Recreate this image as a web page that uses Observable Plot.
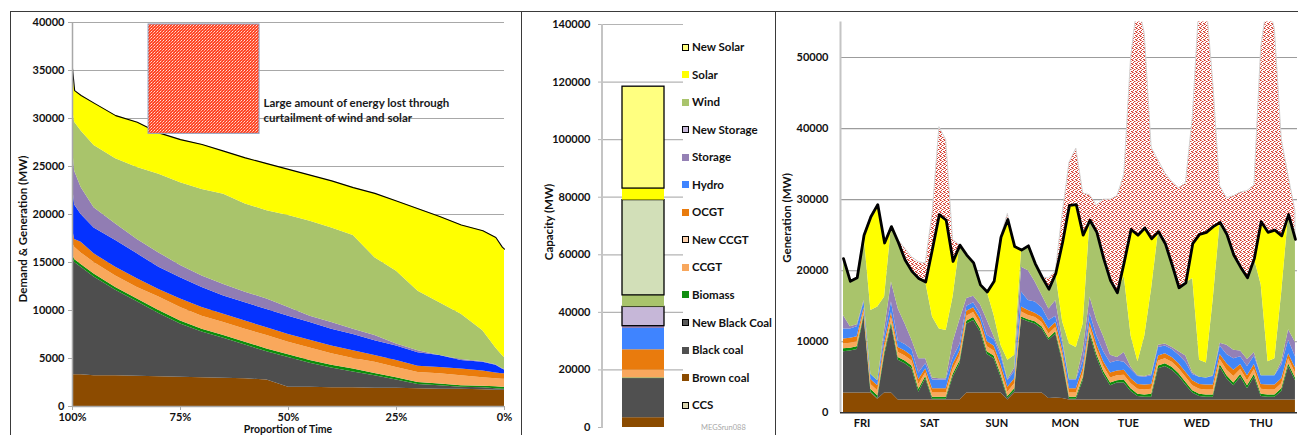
<!DOCTYPE html>
<html><head><meta charset="utf-8">
<script src="https://cdn.jsdelivr.net/npm/d3@7"></script>
<script src="https://cdn.jsdelivr.net/npm/@observablehq/plot@0.6"></script>
<style>
body{margin:0;background:#fff;font-family:Lato,"Liberation Sans",sans-serif;}
#wrap{position:relative;width:1298px;height:435px;overflow:hidden;background:#fff;}
.panel{position:absolute;border:1.6px solid #3a3a3a;box-sizing:border-box;}
.lbl{position:absolute;font-weight:bold;font-size:11px;line-height:1;color:#111;white-space:nowrap;}
.vlab{position:absolute;font-weight:bold;font-size:11.5px;line-height:1;color:#111;white-space:nowrap;transform:translate(-50%,-50%) rotate(-90deg);}
.sw{position:absolute;width:7px;height:7px;box-sizing:border-box;}
</style></head><body>
<svg width="0" height="0" style="position:absolute"><defs>
<pattern id="dotsR" width="4" height="4" patternUnits="userSpaceOnUse">
<rect width="4" height="4" fill="#ffffff"/>
<rect x="0" y="0" width="1" height="1" fill="#d43a2e"/>
<rect x="1" y="0" width="1" height="1" fill="#e88a80"/>
<rect x="2" y="1" width="1" height="1" fill="#d43a2e"/>
<rect x="1" y="2" width="1" height="1" fill="#d43a2e"/>
<rect x="3" y="3" width="1" height="1" fill="#d43a2e"/>
<rect x="3" y="1" width="1" height="1" fill="#eb9a90"/>
<rect x="0" y="3" width="1" height="1" fill="#e27064"/>
</pattern>
<pattern id="dotsBox" width="3" height="3" patternUnits="userSpaceOnUse">
<rect width="3" height="3" fill="#ff4526"/>
<rect x="1" y="1" width="1" height="1" fill="#ffe2d8"/>
<rect x="0" y="2" width="1" height="1" fill="#ffb4a0"/>
<rect x="2" y="0" width="1" height="1" fill="#ff8a70"/>
</pattern>
</defs></svg>
<div id="wrap"></div>
<script>
// ---------------- LEFT: load duration curve (thousand MW) ----------------
const propL = [100, 99.5, 98, 95, 90, 85, 80, 75, 70, 65, 60, 55, 50, 45, 40, 35, 30, 25, 20, 15, 10, 5, 2, 0.5, 0];
const brownL   = [3.3,3.3,3.3,3.2,3.2,3.15,3.1,3.05,3.0,2.95,2.9,2.75,2.0,2.0,1.95,1.95,1.9,1.9,1.85,1.8,1.8,1.75,1.7,1.7,1.7];
const blackL   = [12.2,11.7,11.2,10.3,8.9,7.75,6.6,5.55,4.75,4.15,3.5,2.95,3.1,2.5,2.05,1.65,1.3,0.85,0.45,0.35,0.2,0.2,0.15,0.1,0.1];
const biomassL = [0.4,0.3,0.3,0.3,0.3,0.3,0.3,0.3,0.3,0.3,0.3,0.3,0.3,0.3,0.3,0.3,0.25,0.25,0.2,0.2,0.15,0.15,0.2,0.2,0.2];
const ccgtL    = [1.1,1.3,1.2,1.2,1.2,1.2,1.4,1.4,1.35,1.35,1.35,1.4,1.3,1.3,1.2,1.1,1.15,1.05,1.05,1.05,1.05,0.9,0.85,0.85,0.85];
const ocgtL    = [1.5,0.8,1.1,0.9,0.9,0.9,0.8,0.9,0.9,0.85,0.85,0.8,0.8,0.8,0.8,0.8,0.7,0.75,0.65,0.65,0.7,0.7,0.6,0.55,0.55];
const hydroL   = [4.5,3.6,2.9,2.7,2.8,2.6,2.3,2.2,2.1,1.9,1.9,1.9,1.9,1.85,1.75,1.7,1.55,1.5,1.4,1.25,0.9,0.9,0.8,0.5,0.4];
const storageL = [4.0,3.5,2.8,2.1,1.7,1.5,1.5,1.3,1.2,1.2,1.1,1.1,0.9,0.65,0.7,0.55,0.55,0.2,0.2,0.0,0.1,0.05,0.05,0.05,0.05];
const windL    = [4.0,5.1,5.9,6.5,6.8,7.5,8.2,8.6,9.0,9.4,9.2,9.2,9.6,9.9,9.85,9.75,8.1,7.6,6.2,5.5,4.7,3.25,1.75,1.35,1.25];
const solarL   = [4.2,3.3,3.7,4.4,4.5,4.7,4.3,4.5,4.7,4.5,4.8,4.9,4.8,4.8,4.9,5.0,6.7,7.3,8.6,9.0,9.3,10.4,11.5,11.3,11.3];
const demandL  = [35.2,32.9,32.4,31.6,30.3,29.6,28.5,27.8,27.3,26.6,25.9,25.3,24.7,24.1,23.5,22.8,22.2,21.4,20.6,19.8,18.9,18.3,17.6,16.6,16.4];
const xTicksL = [100, 75, 50, 25, 0];
const yTicksL = [0,5000,10000,15000,20000,25000,30000,35000,40000];
const noteBox = [{x1: 82.4, x2: 56.7, y1: 28400, y2: 39800}];
const noteText = [{x: 55.8, y: 30900, t: "Large amount of energy lost through\ncurtailment of wind and solar"}];

// ---------------- MIDDLE: capacity (MW) ----------------
const capNames = ["Brown coal","Black coal","Biomass","CCGT","OCGT","Hydro","Storage","New Storage","Wind","New Wind","Solar","New Solar"];
const capValues = [3400,13600,200,2700,7100,7400,800,6700,4000,33100,4000,35400];
const capTicks = [0,20000,40000,60000,80000,100000,120000,140000];
const legendNames = ["New Solar","Solar","Wind","New Storage","Storage","Hydro","OCGT","New CCGT","CCGT","Biomass","New Black Coal","Black coal","Brown coal","CCS"];

// ---------------- RIGHT: one week (thousand MW) ----------------
const dayLabels = ["FRI","SAT","SUN","MON","TUE","WED","THU"];
const dayPos = [2.7, 12.6, 22.4, 32.4, 41.6, 51.6, 61.0];
const yTicksR = [0,10000,20000,30000,40000,50000];
const brownR = [2.8,2.8,2.8,2.8,2.8,1.9,2.8,2.8,1.8,1.8, 1.8,1.8,1.8,1.8,1.8,1.8,1.8,1.8,2.8,2.8, 2.8,2.8,2.8,2.8,1.8,2.8,2.8,2.8,2.8,2.8, 2.0,2.1,2.0,1.8,1.8,1.8,1.8,1.8,1.8,1.8, 1.8,1.8,1.8,1.8,1.8,1.8,1.8,1.8,1.8,1.8, 1.8,1.8,1.8,1.8,1.8,1.8,1.8,1.8,1.8,1.8, 1.8,1.8,1.8,1.8,1.8,1.8,1.8];
const blackR = [5.8,5.9,6.1,10.7,0.1,0.1,5.2,9.5,5.6,5.1, 4.4,1.1,3.0,0.1,0.1,0.1,3.2,5.1,9.7,10.2, 8.6,5.4,4.8,2.2,0.2,0.2,10.4,10.0,9.7,9.0, 8.2,9.0,5.1,0.1,0.1,2.7,9.2,6.0,3.6,2.0, 2.4,2.4,1.2,0.5,0.4,0.4,4.4,4.7,4.2,3.3, 2.1,1.0,0.5,0.4,0.4,4.6,3.0,2.0,3.2,1.6, 3.2,0.5,0.4,0.4,1.2,4.7,2.7];
const biomassR = [.4,.4,.4,.3,.4,.4,.4,.4,.4,.4, .4,.4,.3,.3,.3,.3,.4,.4,.4,.4, .4,.4,.4,.4,.3,.4,.3,.3,.3,.3, .3,.3,.4,.3,.3,.4,.4,.4,.4,.4, .3,.4,.4,.3,.3,.4,.4,.4,.4,.4, .4,.3,.3,.3,.3,.4,.4,.4,.4,.4, .4,.3,.3,.3,.4,.4,.4];
const ccgtR = [.7,.7,.7,.5,.7,.7,.7,.7,.7,.7, .7,.7,.5,.6,.6,.6,.7,.7,.7,.7, .7,.7,.7,.7,.6,.7,.7,.6,.6,.6, .6,.6,.7,.6,.6,.7,.7,.7,.7,.7, .7,.7,.7,.7,.7,.7,.7,.7,.7,.7, .7,.7,.7,.7,.7,.7,.8,.9,.7,.7, .7,.7,.7,.7,.7,.7,.7];
const ocgtR = [.7,.7,.7,.5,.7,.7,.7,.7,.7,.7, .7,.7,.6,.6,.6,.6,.7,.7,.7,.7, .7,.7,.7,.7,.7,.7,.7,.7,.6,.7, .7,.7,.7,.6,.6,.7,.7,.7,.7,.7, .7,.7,.7,.7,.7,.7,.7,.7,.7,.7, .7,.7,.7,.7,.7,.7,.9,.9,.7,.7, .7,.7,.7,.7,.7,.7,.7];
const hydroR = [1.4,1.3,1.4,0.8,0.7,0.7,0.9,1.5,0.9,0.9, 0.9,0.9,0.7,1.2,1.2,1.2,0.9,0.9,0.7,0.7, 0.7,0.9,0.9,1.2,0.9,1.0,2.1,1.4,1.6,1.4, 1.2,0.9,0.9,1.2,1.2,1.0,1.2,1.2,1.4,1.4, 1.4,1.1,1.3,1.1,1.1,1.2,1.2,1.1,1.1,1.2, 1.4,0.9,1.0,1.0,1.2,1.2,1.3,1.6,1.1,1.3, 1.2,1.2,1.3,1.3,1.9,1.9,1.6];
const storageR = [1.9,0.3,0.3,0.2,0,0,1.0,2.8,4.5,2.9, 1.3,2.0,0.7,0.3,0.2,0.2,2.2,3.5,1.1,0.9, 1.3,2.1,0.4,0.5,0.2,0.5,3.5,4.2,2.8,1.7, 1.6,2.2,0.5,0.1,0.1,1.5,2.3,2.2,2.1,1.1, 0.5,1.4,0.3,0.1,0.1,0.2,0.3,0.3,0.3,0.5, 0.9,0.2,0,0,0.1,0.4,1.3,1.2,0.8,1.0, 0.5,0,0,0,0.5,1.5,2.0];
const windR = [8.0,6.4,6.6,9.2,9.0,10.4,4.6,7.8,9.4,9.0, 9.7,11.3,10.8,8.6,7.0,6.8,6.4,10.5,6.1,4.7, 2.8,4.0,3.0,1.0,2.7,1.8,2.4,3.5,2.6,2.6, 2.8,3.8,2.5,5.0,4.5,3.7,10.8,12.4,11.0,10.5, 9.1,10.7,4.4,2.0,5.7,12.1,16.0,14.1,11.6,9.0, 10.3,13.3,2.4,2.1,10.8,17.0,15.6,13.4,11.8,11.5, 13.2,12.8,2.0,2.4,9.8,16.2,14.5];
const solarR = [0,0,0,0,13.2,14.4,7.6,0,0,0, 0,0,0,9.6,16.1,15.5,5.0,0,0,0, 0,0,4.8,15.2,19.8,15.3,0,0,0,0, 0,0,11.2,19.5,20.1,12.5,0,0,0,0, 0,2.0,15.0,17.8,15.2,7.0,0,0,0,0, 0,4.9,17.7,18.4,10.2,0,0,0,0,0, 0,8.9,18.2,18.1,7.9,0,0];
const demandR = [21.7,18.5,19.0,25.0,27.6,29.3,23.9,26.2,24.0,21.5, 19.9,18.9,18.4,23.1,27.9,27.1,21.3,23.6,22.2,21.1, 18.0,17.0,18.5,24.7,27.2,23.4,22.9,23.5,21.0,19.1, 17.4,19.6,24.0,29.2,29.3,25.0,27.1,25.4,21.7,18.6, 16.9,21.2,25.8,25.0,26.0,24.5,25.5,23.8,20.8,17.6, 18.3,23.8,25.1,25.4,26.2,26.8,25.1,22.2,20.5,19.0, 21.7,26.9,25.4,25.7,24.9,27.9,24.4];
const curtailR = [0,0,0,0,0,0,0,0,0.3,1.6, 2.0,2.3,2.6,4.9,12.3,11.3,3.0,0,0,0, 0,0,0,0,0.8,0,0,0,0,0, 1.5,0.3,4.0,6.0,7.9,5.9,3.5,3.8,8.3,11.4, 13.6,12.3,24.2,33.0,27.3,12.8,10.0,9.9,11.7,14.0, 14.0,17.7,32.9,32.6,20.2,5.1,5.1,8.3,10.5,12.2, 10.3,24.6,32.6,28.3,13.6,5.4,4.0];

// ---------------- colours ----------------
const colL = {"Brown coal":"#8c4b00","Black coal":"#4e4e4e","Biomass":"#0c8c0c","CCGT":"#f9a85c","OCGT":"#ea7b0b","Hydro":"#0532ff","Storage":"#917db3","Wind":"#a9c46b","Solar":"#ffff00"};
const colR = Object.assign({}, colL, {"Hydro":"#4286f6","Storage":"#9480b6"});
const colCap = {"Brown coal":"#8b4b00","Black coal":"#505050","Biomass":"#108f10","CCGT":"#f8a75d","OCGT":"#e97b0d","Hydro":"#3f84ff","Storage":"#9581b5","New Storage":"#c6b7d8","Wind":"#a9c46c","New Wind":"#d2dfb8","Solar":"#ffff00","New Solar":"#ffff80","New CCGT":"#fbd0ad","New Black Coal":"#5a5a5a","CCS":"#d9d4ae"};

const font = {fontFamily: "Lato, sans-serif", fontSize: "11px", fontWeight: "700", color: "#111", background: "none", overflow: "visible"};
const wrap = document.getElementById("wrap");
function put(el, left, top) { el.style.position = "absolute"; el.style.left = left + "px"; el.style.top = top + "px"; wrap.appendChild(el); return el; }
function div(cls, text, left, top, extra) { const d = document.createElement("div"); d.className = cls; d.textContent = text; Object.assign(d.style, extra || {}); return put(d, left, top); }

// LEFT
const seriesL = [["Brown coal", brownL],["Black coal", blackL],["Biomass", biomassL],["CCGT", ccgtL],["OCGT", ocgtL],["Hydro", hydroL],["Storage", storageL],["Wind", windL],["Solar", solarL]];
const rowsL = [];
seriesL.forEach(([s, vals]) => vals.forEach((v, i) => rowsL.push({p: propL[i], v: v * 1000, s, c: colL[s]})));
const demRowsL = propL.map((p, i) => ({p, v: demandL[i] * 1000}));
const leftSvg = Plot.plot({
  width: 520, height: 435, marginLeft: 72, marginRight: 16, marginTop: 22, marginBottom: 29,
  x: {domain: [100, 0]}, y: {domain: [0, 40000]}, color: {type: "identity"}, style: font,
  marks: [
    Plot.ruleY(yTicksL.filter(d => d > 0), {stroke: "#a8a8a8", strokeWidth: 1}),
    Plot.areaY(rowsL, Plot.stackY({x: "p", y: "v", z: "s", fill: "c"})),
    Plot.line(demRowsL, {x: "p", y: "v", stroke: "#000", strokeWidth: 1.1}),
    Plot.ruleX([100], {stroke: "#a8a8a8", strokeWidth: 1.5}),
    Plot.ruleY([0], {stroke: "#a8a8a8", strokeWidth: 1.5}),
    Plot.rect(noteBox, {x1: "x1", x2: "x2", y1: "y1", y2: "y2", fill: "url(#dotsBox)", stroke: "#8ea6c8", strokeWidth: 1}),
    Plot.text(noteText, {x: "x", y: "y", text: "t", textAnchor: "start", lineAnchor: "middle", lineHeight: 1.32, fontSize: 11.5, fontWeight: "bold", fill: "#1a1a1a"}),
    Plot.axisY({ticks: yTicksL, tickSize: 4, tickPadding: 4, tickFormat: "d", stroke: "#a8a8a8", label: null}),
    Plot.axisX({ticks: xTicksL, tickSize: 4, tickPadding: 3, tickFormat: d => d + "%", stroke: "#a8a8a8", label: null})
  ]
});
put(leftSvg, 0, 0);

// MIDDLE
const capRows = capNames.map((s, i) => ({s, v: capValues[i], c: colCap[s], k: s.startsWith("New") ? "#000" : "none"}));
const midSvg = Plot.plot({
  width: 254, height: 435, marginLeft: 81, marginRight: 92, marginTop: 24, marginBottom: 8,
  x: {domain: ["Capacity"], padding: 0.317, axis: null}, y: {domain: [0, 140000]}, color: {type: "identity"}, style: font,
  marks: [
    Plot.ruleY(capTicks.filter(d => d > 0), {stroke: "#b4b4b4", strokeWidth: 1.2}),
    Plot.barY(capRows, Plot.stackY({x: () => "Capacity", y: "v", fill: "c", stroke: "k", strokeWidth: 1.3})),
    Plot.axisY({ticks: capTicks, tickSize: 4, tickPadding: 8, tickFormat: "d", stroke: "#b4b4b4", label: null})
  ]
});
put(midSvg, 521, 0);
div("abs", "", 601, 24, {width: "2px", height: "404px", background: "#c4c4c4"});
legendNames.forEach((name, k) => {
  const cy = 47 + k * 27.55;
  const isNew = name.startsWith("New") || name === "CCS";
  div("sw", "", 682, cy - 3.5, {background: colCap[name], border: isNew ? "1.2px solid #000" : "none"});
  div("lbl", name, 692, cy - 6, {fontSize: "11.5px"});
});
div("lbl", "MEGSrun088", 701, 424, {fontSize: "7.5px", fontWeight: "normal", color: "#a8a8a8"});

// RIGHT
const seriesR = [["Brown coal", brownR],["Black coal", blackR],["Biomass", biomassR],["CCGT", ccgtR],["OCGT", ocgtR],["Hydro", hydroR],["Storage", storageR],["Wind", windR],["Solar", solarR]];
const rowsR = [];
seriesR.forEach(([s, vals]) => vals.forEach((v, i) => rowsR.push({i, v: v * 1000, s, c: colR[s]})));
const potRows = demandR.map((d, i) => ({i, d: d * 1000, p: (d + curtailR[i]) * 1000}));
const demRowsR = demandR.map((d, i) => ({i, v: d * 1000}));
const xDomR = [-0.44, 66.3];
const rightSvg = Plot.plot({
  width: 522, height: 435, marginLeft: 64, marginRight: 1, marginTop: 21.5, marginBottom: 22.7,
  x: {domain: xDomR}, y: {domain: [0, 55000]}, color: {type: "identity"}, style: font,
  marks: [
    Plot.ruleY(yTicksR.filter(d => d > 0), {stroke: "#9c9c9c", strokeWidth: 1.1}),
    Plot.areaY(potRows, {x: "i", y1: "d", y2: "p", fill: "url(#dotsR)", stroke: "#d4d4d4", strokeWidth: 1, clip: true}),
    Plot.areaY(rowsR, Plot.stackY({x: "i", y: "v", z: "s", fill: "c"})),
    Plot.ruleX([xDomR[0]], {stroke: "#c4c4c4", strokeWidth: 2}),
    Plot.ruleY([0], {stroke: "#333", strokeWidth: 1.5}),
    Plot.line(demRowsR, {x: "i", y: "v", stroke: "#000", strokeWidth: 2.8}),
    Plot.axisY({ticks: yTicksR, tickSize: 0, tickPadding: 12, tickFormat: "d", label: null}),
    Plot.axisX({ticks: dayPos, tickSize: 0, tickPadding: 6, tickFormat: d => dayLabels[dayPos.indexOf(d)], label: null})
  ]
});
put(rightSvg, 776, 0);

// axis titles
div("vlab", "Demand & Generation (MW)", 22.5, 229);
div("lbl", "Proportion of Time", 288, 424, {transform: "translateX(-50%)", fontSize: "10.5px"});
div("vlab", "Capacity (MW)", 548.5, 222);
div("vlab", "Generation (MW)", 786.5, 218);

// panel frames
div("panel", "", 10, 11, {width: "512px", height: "440px"});
div("panel", "", 521, 11, {width: "255px", height: "440px"});
div("panel", "", 775, 11, {width: "540px", height: "440px"});
</script>
</body></html>
